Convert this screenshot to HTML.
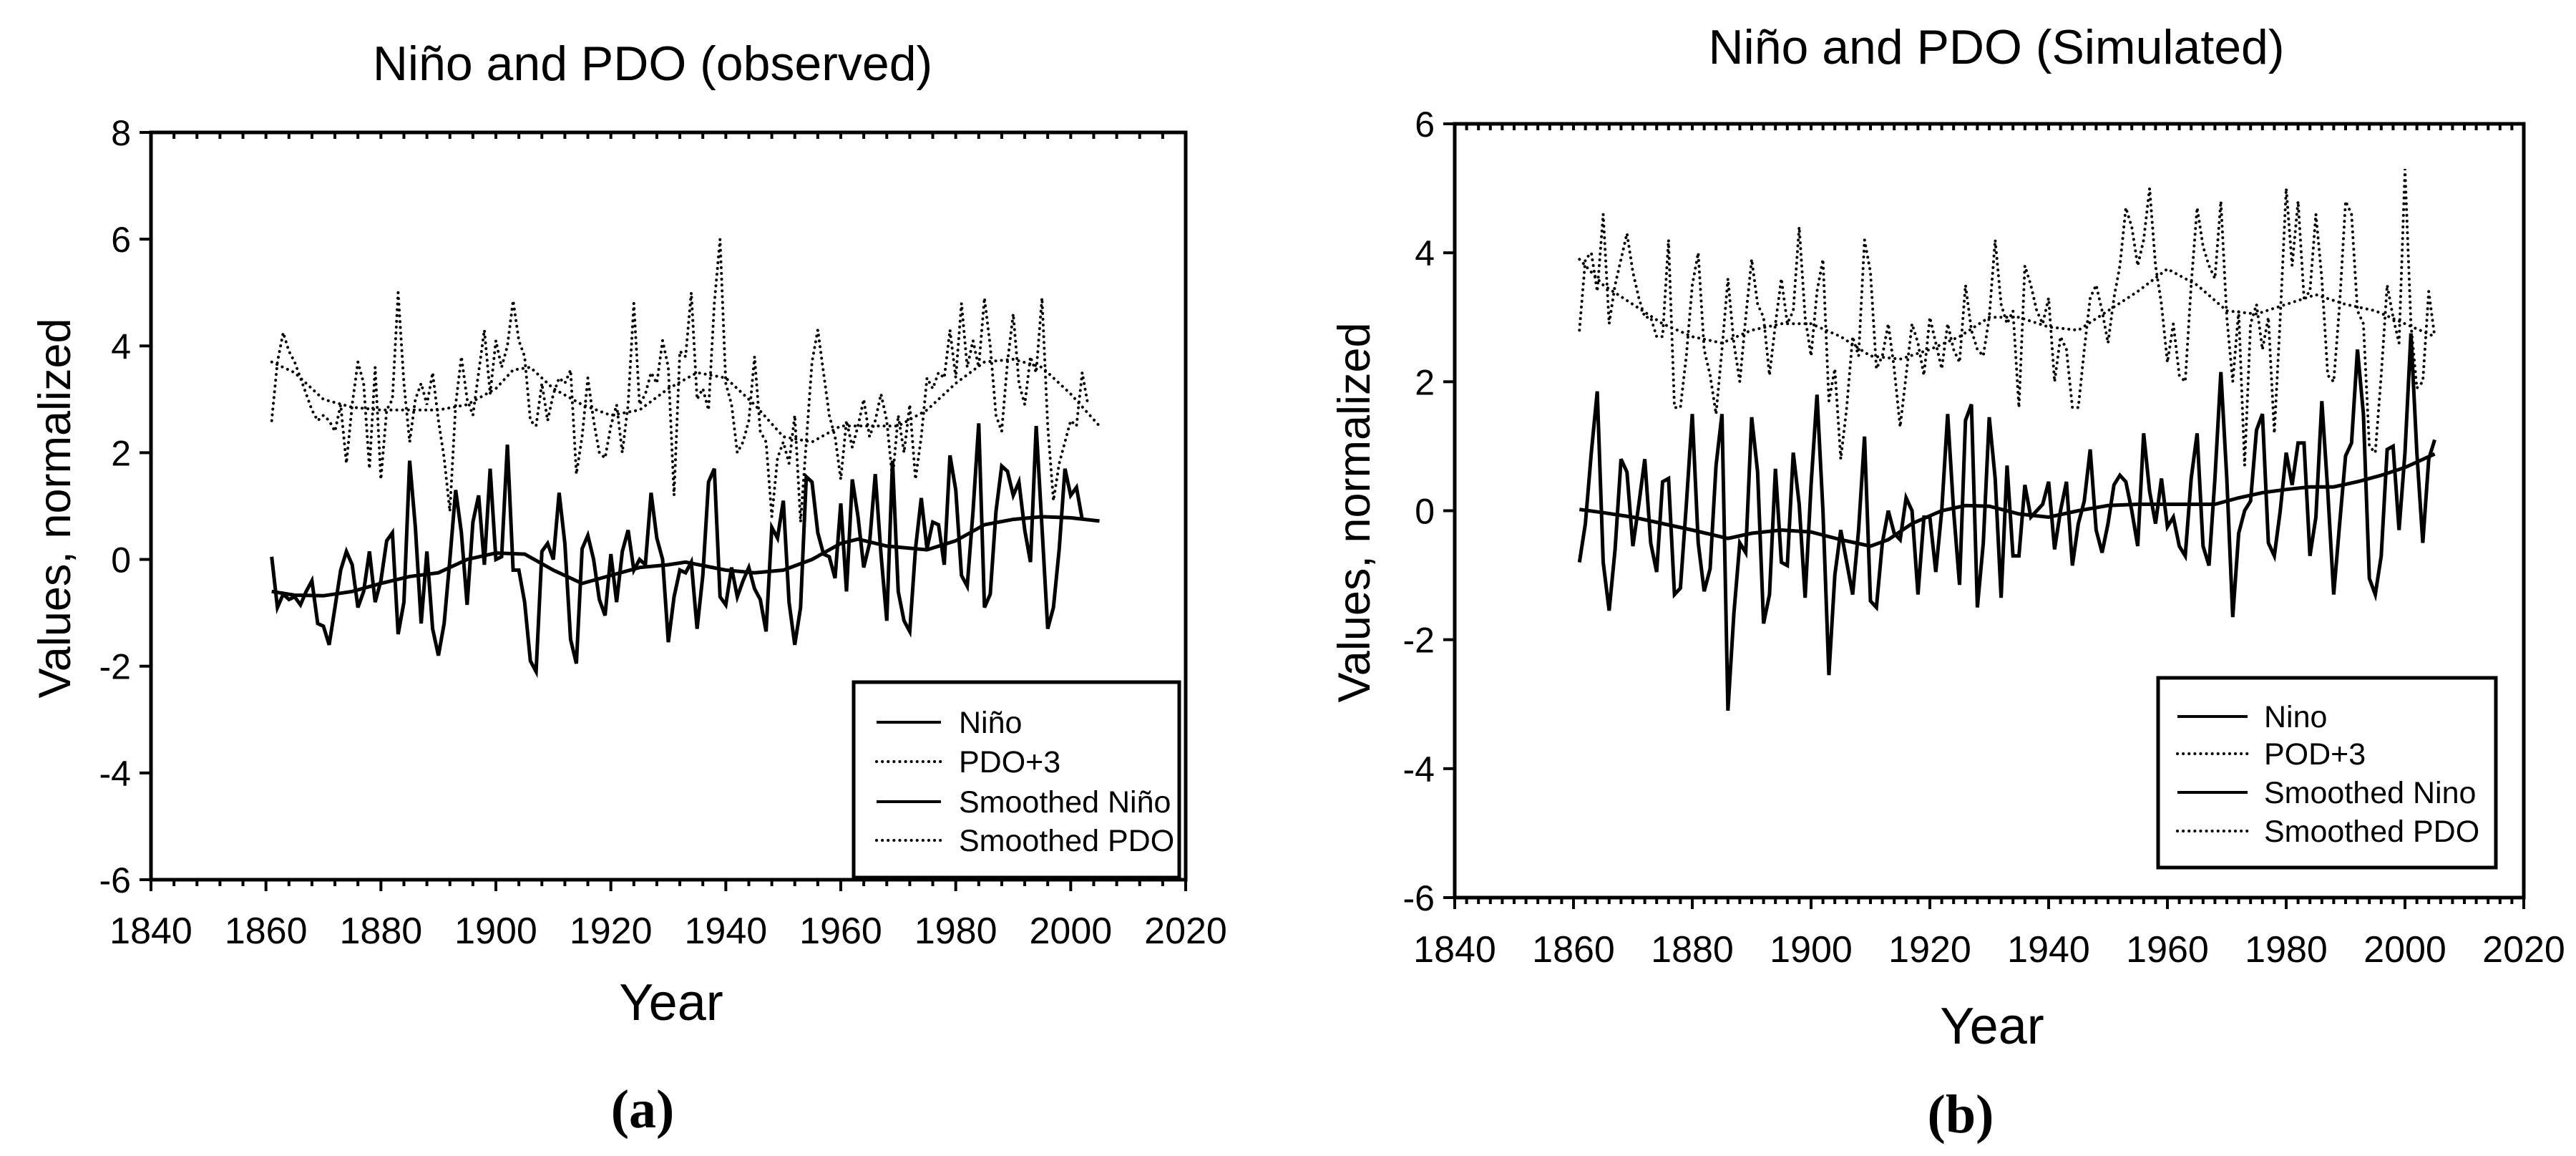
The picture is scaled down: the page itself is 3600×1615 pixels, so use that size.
<!DOCTYPE html>
<html><head><meta charset="utf-8"><style>
html,body{margin:0;padding:0;background:#fff;}
svg{display:block;font-family:"Liberation Sans",Arial,sans-serif;}
</style></head><body>
<svg id="fig" width="3600" height="1615" viewBox="0 0 3600 1615" xmlns="http://www.w3.org/2000/svg"></svg>
<script>
// ---- Chart (a) observed ----
const aNino = [0.05,-0.9,-0.65,-0.75,-0.7,-0.85,-0.6,-0.4,-1.2,-1.25,-1.6,-0.9,-0.2,0.15,-0.1,-0.9,-0.6,0.15,-0.8,-0.4,0.35,0.5,-1.4,-0.8,1.85,0.6,-1.2,0.15,-1.3,-1.8,-1.2,0,1.3,0.5,-0.85,0.7,1.2,-0.1,1.7,0.0,0.05,2.15,-0.2,-0.2,-0.8,-1.9,-2.1,0.15,0.3,0,1.25,0.3,-1.5,-1.95,0.2,0.45,0,-0.75,-1.05,0.1,-0.8,0.15,0.55,-0.2,0,-0.1,1.25,0.4,0,-1.55,-0.7,-0.2,-0.25,-0.05,-1.3,-0.3,1.45,1.7,-0.7,-0.85,-0.15,-0.7,-0.4,-0.15,-0.55,-0.75,-1.35,0.6,0.4,1.1,-0.8,-1.6,-0.9,1.55,1.45,0.5,0.1,0.05,-0.35,1.05,-0.6,1.5,0.8,-0.15,0.3,1.6,0.1,-1.15,1.85,-0.6,-1.15,-1.35,0.2,1.15,0.2,0.7,0.65,-0.1,1.95,1.3,-0.3,-0.5,0.9,2.55,-0.9,-0.65,0.9,1.75,1.65,1.2,1.45,0.55,-0.05,2.5,0.6,-1.3,-0.9,0.2,1.7,1.2,1.35,0.75];
const aPdo = [2.6,3.7,4.25,3.9,3.7,3.4,3.1,2.8,2.6,2.7,2.6,2.4,2.9,1.8,2.9,3.7,3.3,1.7,3.6,1.5,2.8,3.0,5.0,3.3,2.2,3.0,3.3,2.9,3.5,2.6,1.9,0.9,2.9,3.8,3.0,2.7,3.5,4.3,3.1,4.1,3.6,4.0,4.85,4.1,3.8,2.6,2.5,3.3,2.6,3.1,3.4,3.3,3.55,1.6,2.3,3.4,2.6,2.0,1.9,2.5,2.9,2.0,2.9,4.8,2.9,3.1,3.5,3.3,4.1,3.6,1.2,3.9,3.8,5.0,3.0,3.2,2.8,4.8,6.0,3.3,2.9,2.0,2.2,2.6,3.8,2.4,2.2,0.8,1.9,2.2,1.8,2.7,0.7,2.2,3.7,4.3,3.5,2.7,2.3,1.5,2.6,2.1,2.5,3.0,2.3,2.6,3.1,2.6,1.5,2.7,2.0,2.9,1.5,2.3,3.4,3.2,3.5,3.4,4.3,3.4,4.8,3.6,4.1,3.6,4.9,4.0,2.7,2.4,3.7,4.6,3.3,2.9,3.8,3.5,4.9,2.5,1.1,1.8,2.2,2.6,2.5,3.5,2.9];
const aSmYears = [1861,1865,1870,1875,1880,1885,1890,1895,1900,1905,1910,1915,1920,1925,1930,1933,1940,1945,1950,1955,1960,1963,1968,1975,1980,1985,1990,1995,2000,2005];
const aSmNino = [-0.6,-0.67,-0.68,-0.6,-0.45,-0.32,-0.25,0.0,0.12,0.1,-0.2,-0.45,-0.3,-0.15,-0.1,-0.05,-0.2,-0.25,-0.2,0.0,0.3,0.38,0.25,0.18,0.35,0.65,0.75,0.8,0.78,0.72];
const aSmPdoYears = [1861,1865,1870,1875,1880,1885,1890,1895,1900,1903,1906,1910,1915,1920,1925,1930,1935,1940,1945,1950,1955,1960,1965,1970,1975,1980,1985,1990,1995,2000,2005];
const aSmPdo = [3.7,3.5,3.0,2.85,2.8,2.8,2.8,2.9,3.2,3.55,3.6,3.2,2.9,2.7,2.8,3.2,3.5,3.4,2.9,2.3,2.2,2.5,2.5,2.5,2.8,3.3,3.7,3.75,3.6,3.1,2.5];
const aYTicks = [8,6,4,2,0,-2,-4,-6];
// ---- Chart (b) simulated ----
const bNino = [-0.8,-0.2,0.9,1.85,-0.8,-1.55,-0.6,0.8,0.6,-0.55,0.1,0.8,-0.5,-0.95,0.45,0.5,-1.3,-1.2,0.1,1.5,-0.5,-1.25,-0.9,0.7,1.5,-3.1,-1.6,-0.5,-0.65,1.45,0.6,-1.75,-1.3,0.65,-0.8,-0.85,0.9,0.1,-1.35,0.4,1.8,0.0,-2.55,-1.0,-0.3,-0.8,-1.3,-0.3,1.15,-1.4,-1.5,-0.5,0.0,-0.35,-0.45,0.2,0.0,-1.3,-0.1,-0.1,-0.95,0.0,1.5,0.0,-1.15,1.4,1.65,-1.5,-0.5,1.45,0.5,-1.35,0.7,-0.7,-0.7,0.4,-0.1,0.0,0.1,0.45,-0.6,0.0,0.45,-0.85,-0.2,0.15,0.95,-0.3,-0.65,-0.2,0.4,0.55,0.45,0.0,-0.55,1.2,0.3,-0.2,0.5,-0.25,-0.1,-0.55,-0.7,0.5,1.2,-0.55,-0.85,0.5,2.15,0.5,-1.65,-0.35,0.0,0.15,1.25,1.5,-0.5,-0.7,0.0,0.9,0.4,1.05,1.05,-0.7,-0.1,1.7,0.3,-1.3,-0.2,0.85,1.05,2.5,1.5,-1.05,-1.3,-0.7,0.95,1.0,-0.3,0.9,2.75,0.9,-0.5,0.8,1.1];
const bPdo = [2.8,3.9,4.0,3.4,4.6,2.9,3.5,3.9,4.3,3.7,3.3,3.0,3.0,2.7,2.7,4.2,1.6,1.6,2.4,3.5,4.0,2.5,2.1,1.5,2.5,3.6,2.6,2.0,3.0,3.9,3.2,3.0,2.1,2.9,3.6,2.9,3.1,4.4,3.0,2.4,3.4,3.9,1.7,2.2,0.8,1.6,2.7,2.4,4.2,3.7,2.2,2.4,2.9,2.2,1.3,2.1,2.9,2.6,2.1,3.0,2.6,2.2,2.9,2.5,2.3,3.5,2.8,2.5,2.4,3.0,4.2,3.2,2.9,3.1,1.6,3.8,3.5,3.1,2.9,3.3,2.0,2.7,2.5,1.6,1.6,2.5,3.3,3.5,3.1,2.6,3.3,3.8,4.7,4.4,3.8,4.2,5.0,3.8,3.2,2.3,2.9,2.1,2.0,3.5,4.7,4.1,3.8,3.6,4.8,3.0,2.0,3.1,0.7,2.9,3.2,2.5,3.0,1.2,3.0,5.0,3.8,4.8,3.3,3.4,4.6,3.6,2.1,2.0,3.2,4.8,4.6,3.1,2.9,1.0,0.9,2.1,3.5,3.0,2.6,5.3,2.9,1.9,2.0,3.4,2.7];
const bSmYears = [1861,1865,1870,1875,1880,1886,1890,1895,1900,1905,1910,1913,1917,1922,1926,1930,1935,1940,1945,1950,1955,1960,1965,1968,1972,1976,1980,1984,1988,1992,1996,2000,2005];
const bSmNino = [0.02,-0.03,-0.1,-0.2,-0.3,-0.43,-0.35,-0.3,-0.33,-0.45,-0.55,-0.45,-0.2,0.0,0.08,0.07,-0.05,-0.1,0.0,0.08,0.1,0.1,0.1,0.1,0.2,0.28,0.33,0.37,0.37,0.45,0.55,0.67,0.88];
const bSmPdoYears = [1861,1865,1870,1875,1880,1885,1890,1895,1900,1905,1910,1915,1920,1925,1930,1935,1940,1945,1950,1955,1960,1965,1970,1975,1980,1985,1990,1995,2000,2005];
const bSmPdo = [3.9,3.5,3.2,2.9,2.7,2.6,2.8,2.9,2.9,2.7,2.4,2.35,2.5,2.7,3.0,3.0,2.85,2.8,3.1,3.4,3.75,3.5,3.1,3.05,3.2,3.35,3.2,3.1,2.9,2.7];
const bYTicks = [6,4,2,0,-2,-4,-6];
const xTicks = [1840,1860,1880,1900,1920,1940,1960,1980,2000,2020];
const firstYear = 1861;

const NS = "http://www.w3.org/2000/svg";
const svg = document.getElementById('fig');
function mk(tag, attrs, parent, txt){
  const e = document.createElementNS(NS, tag);
  for (const k in attrs) e.setAttribute(k, attrs[k]);
  if (txt !== undefined) e.textContent = txt;
  (parent||svg).appendChild(e);
  return e;
}
function pathD(xs, ys, sx, sy){
  return xs.map((x,i)=>(i?'L':'M')+sx(x).toFixed(1)+','+sy(ys[i]).toFixed(1)).join(' ');
}
function yearsOf(arr){ return arr.map((_,i)=>firstYear+i); }

function drawChart(c){
  const g = mk('g', {});
  
  
  const sx = v => c.L + (v-1840)/(180)*(c.R-c.L);
  const sy = v => c.T + (c.ymax-v)/(c.ymax-c.ymin)*(c.B-c.T);
  const t = mk('text', {x:c.titleX, y:c.titleY, 'font-size':68, 'text-anchor':'middle'}, g, c.title);
  
  
  const fr = mk('rect', {x:c.L, y:c.T, width:c.R-c.L, height:c.B-c.T, fill:'none', stroke:'#000', 'stroke-width':5}, g);
  
  
  const xt = mk('g', {stroke:'#000', 'stroke-width':4}, g);
  
  
  for (let yr=1840; yr<=2020; yr+=c.minor){
    const major = (yr-1840)%20===0;
    mk('line', {x1:sx(yr), x2:sx(yr), y1:c.B, y2:c.B+(major?16:9)}, xt);
    if (yr>1840 && yr<2020) mk('line', {x1:sx(yr), x2:sx(yr), y1:c.T, y2:c.T+9}, xt);
  }
  xTicks.forEach(v=>{
    const l = mk('text', {x:sx(v), y:c.xLabY, 'font-size':52, 'text-anchor':'middle'}, g, String(v));
    
    
  });
  c.yTicks.forEach(v=>{
    mk('line', {x1:c.L-16, x2:c.L, y1:sy(v), y2:sy(v), stroke:'#000', 'stroke-width':4}, g);
    const l = mk('text', {x:c.L-28, y:sy(v)+18, 'font-size':50, 'text-anchor':'end'}, g, String(v));
    
    
  });
  const yl = mk('text', {x:0, y:0, 'font-size':63, 'text-anchor':'middle', transform:`translate(${c.yLabX},${c.yLabY}) rotate(-90)`}, g, 'Values, normalized');
  
  
  const xl = mk('text', {x:c.xTitleX, y:c.xTitleY, 'font-size':72, 'text-anchor':'middle'}, g, 'Year');
  
  
  const pl = mk('text', {x:c.panelX, y:c.panelY, 'font-size':76, 'font-weight':'bold', 'text-anchor':'middle', 'font-family':'"Liberation Serif", serif'}, g, c.panel);
  
  
  const dot = {fill:'none', stroke:'#000', 'stroke-width':4, 'stroke-dasharray':'0.1 8', 'stroke-linecap':'round'};
  const solid = {fill:'none', stroke:'#000', 'stroke-width':5, 'stroke-linejoin':'miter'};
  const p1 = mk('path', Object.assign({d:pathD(c.smPdoYears, c.smPdo, sx, sy)}, dot), g);
  
  
  const p2 = mk('path', Object.assign({d:pathD(yearsOf(c.pdo), c.pdo, sx, sy)}, dot), g);
  
  
  const p3 = mk('path', Object.assign({d:pathD(yearsOf(c.nino), c.nino, sx, sy)}, solid), g);
  
  
  const p4 = mk('path', Object.assign({d:pathD(c.smYears, c.smNino, sx, sy)}, solid), g);
  
  
  const lg = mk('g', {}, g);
  
  
  mk('rect', {x:c.lg.x, y:c.lg.y, width:c.lg.w, height:c.lg.h, fill:'#fff', stroke:'#000', 'stroke-width':5}, lg);
  c.lg.labels.forEach((lab,i)=>{
    const yy = c.lg.rows[i];
    mk('line', Object.assign({x1:c.lg.lx1, x2:c.lg.lx2, y1:yy, y2:yy}, i%2? dot : {stroke:'#000','stroke-width':4}), lg);
    const tx = mk('text', {x:c.lg.tx, y:yy+15, 'font-size':43}, lg, lab);
    
    
  });
}

drawChart({id:'observed', title:'Niño and PDO (observed)', titleX:912, titleY:112,
  L:211, R:1657, T:185, B:1229, ymin:-6, ymax:8, minor:4, yTicks:aYTicks,
  xLabY:1318, yLabX:98, yLabY:710, xTitleX:938, xTitleY:1425, panel:'(a)', panelX:898, panelY:1575,
  nino:aNino, pdo:aPdo, smYears:aSmYears, smNino:aSmNino, smPdoYears:aSmPdoYears, smPdo:aSmPdo,
  lg:{x:1193, y:953, w:455, h:273, lx1:1225, lx2:1315, tx:1340, rows:[1009,1064,1120,1174],
      labels:['Niño','PDO+3','Smoothed Niño','Smoothed PDO']}});
drawChart({id:'simulated', title:'Niño and PDO (Simulated)', titleX:2790, titleY:89,
  L:2033, R:3527, T:173, B:1254, ymin:-6, ymax:6, minor:2, yTicks:bYTicks,
  xLabY:1344, yLabX:1914, yLabY:716, xTitleX:2784, xTitleY:1458, panel:'(b)', panelX:2740, panelY:1582,
  nino:bNino, pdo:bPdo, smYears:bSmYears, smNino:bSmNino, smPdoYears:bSmPdoYears, smPdo:bSmPdo,
  lg:{x:3016, y:947, w:472, h:265, lx1:3043, lx2:3141, tx:3164, rows:[1001,1053,1107,1161],
      labels:['Nino','POD+3','Smoothed Nino','Smoothed PDO']}});
</script>
</body></html>
